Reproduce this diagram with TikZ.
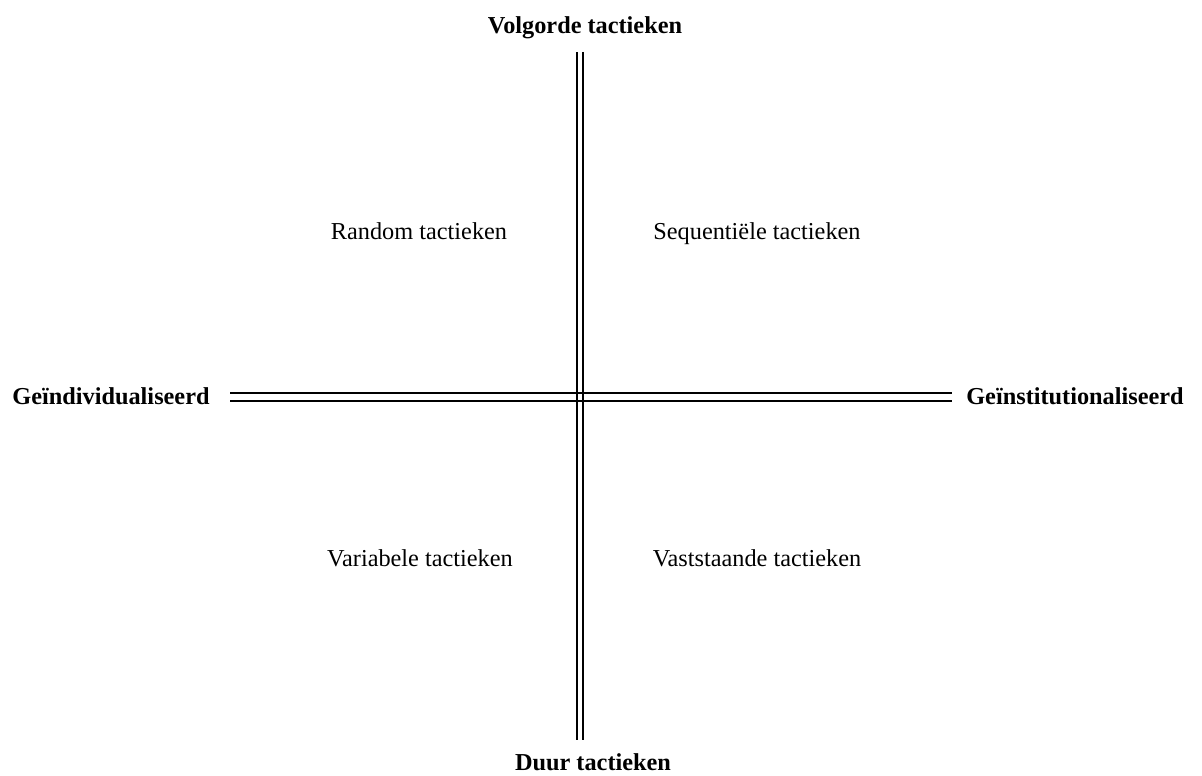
\documentclass[tikz,border=0pt]{standalone}
\usepackage{fontspec}
\setmainfont{Liberation Serif}
\begin{document}
\begin{tikzpicture}[x=1pt,y=-1pt,
  axislabel/.style={font=\fontsize{24.3}{28}\selectfont\bfseries, anchor=base, inner sep=0pt},
  quadlabel/.style={font=\fontsize{24.3}{28}\selectfont, anchor=base, inner sep=0pt},
  vline/.style={draw=black, line width=1.2pt, double=white, double distance=4.8pt},
  hline/.style={draw=black, line width=1.2pt, double=white, double distance=6.8pt}]
\useasboundingbox[fill=white] (0,0) rectangle (1202,776);
% axis labels
\node[axislabel] (top) at (585,34) {Volgorde tactieken};
\node[axislabel] (bot) at (593,770) {Duur tactieken};
\node[axislabel] (left) at (111,404) {Geïndividualiseerd};
\node[axislabel] (right) at (1075,404) {Geïnstitutionaliseerd};
% quadrant labels
\node[quadlabel] (q1) at (419,239) {Random tactieken};
\node[quadlabel] (q2) at (757,239) {Sequentiële tactieken};
\node[quadlabel] (q3) at (420,566) {Variabele tactieken};
\node[quadlabel] (q4) at (757,566) {Vaststaande tactieken};
% axes
\coordinate (vt) at (580,52);
\coordinate (vb) at (580,740);
\coordinate (hl) at (230,397);
\coordinate (hr) at (952,397);
\draw[hline] (hl) -- (hr);
\draw[vline] (vt) -- (vb);
\draw[line width=1.2pt] (577,393) -- (583,393) (577,401) -- (583,401);
\end{tikzpicture}
\end{document}
